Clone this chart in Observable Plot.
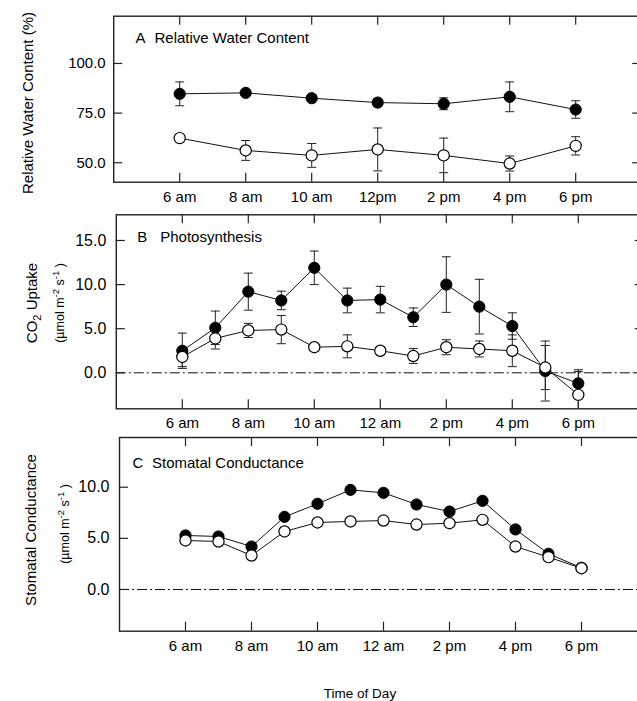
<!DOCTYPE html>
<html><head><meta charset="utf-8">
<script src="https://cdn.jsdelivr.net/npm/d3@7"></script>
<script src="https://cdn.jsdelivr.net/npm/@observablehq/plot@0.6"></script>
<style>
body{margin:0;background:#fff;}
#chart{width:637px;height:701px;overflow:hidden;position:relative;background:#fff;}
#chart svg{display:block;}
</style></head><body><div id="chart"></div>
<script>
// ---------- data ----------
const tickHours = [6, 8, 10, 12, 14, 16, 18];
const tickLabelsA = ["6 am", "8 am", "10 am", "12pm", "2 pm", "4 pm", "6 pm"];
const tickLabelsBC = ["6 am", "8 am", "10 am", "12 am", "2 pm", "4 pm", "6 pm"];

// Panel A: relative water content (%), every 2 h
const hoursA = [6, 8, 10, 12, 14, 16, 18];
const rwcFilled = [84.7, 85.2, 82.5, 80.3, 79.7, 83.2, 76.8];
const rwcFilledErr = [6.0, 1.5, 1.5, 2.0, 3.0, 7.5, 4.4];
const rwcOpen = [62.4, 56.2, 53.7, 56.7, 53.7, 49.6, 58.5];
const rwcOpenErr = [1.5, 5.0, 6.0, 10.8, 8.7, 3.8, 4.6];
const yTicksA = [50, 75, 100];

// Panel B: CO2 uptake (µmol m-2 s-1), hourly
const hoursB = [6, 7, 8, 9, 10, 11, 12, 13, 14, 15, 16, 17, 18];
const co2Filled = [2.5, 5.1, 9.2, 8.2, 11.9, 8.2, 8.3, 6.3, 10.0, 7.5, 5.3, 0.2, -1.2];
const co2FilledErr = [2.0, 1.9, 2.1, 1.05, 1.9, 1.4, 1.5, 1.05, 3.15, 3.1, 1.5, 3.4, 1.55];
const co2Open = [1.8, 3.9, 4.8, 4.9, 2.9, 3.0, 2.5, 1.9, 2.9, 2.7, 2.5, 0.6, -2.5];
const co2OpenErr = [1.1, 1.2, 0.8, 1.6, 0.4, 1.3, 0.4, 0.85, 0.85, 0.9, 1.8, 2.5, 2.65];
const yTicksB = [0, 5, 10, 15];

// Panel C: stomatal conductance, hourly
const hoursC = [6, 7, 8, 9, 10, 11, 12, 13, 14, 15, 16, 17, 18];
const gsFilled = [5.28, 5.18, 4.2, 7.1, 8.38, 9.74, 9.45, 8.31, 7.62, 8.67, 5.87, 3.49, 2.12];
const gsOpen = [4.79, 4.69, 3.32, 5.67, 6.55, 6.65, 6.74, 6.35, 6.48, 6.81, 4.2, 3.16, 2.08];
const yTicksC = [0, 5, 10];

// ---------- drawing ----------
const FONT = "'Liberation Sans', Arial, Helvetica, sans-serif";
const W = 637;
const xDomain = [4, 20];
const plotW = 528;
const capSymbol = {draw(ctx) { ctx.moveTo(-4.5, 0); ctx.lineTo(4.5, 0); }};

function rows(hours, vals, errs) {
  return hours.map((t, i) => ({t, v: vals[i], lo: errs ? vals[i] - errs[i] : null, hi: errs ? vals[i] + errs[i] : null}));
}

function panel(cfg) {
  const innerH = cfg.height - cfg.top - cfg.bottom;
  const f = rows(cfg.hours, cfg.filled, cfg.filledErr);
  const o = rows(cfg.hours, cfg.open, cfg.openErr);
  const marks = [
    Plot.frame({stroke: "#222", strokeWidth: 1.4}),
    cfg.zero ? Plot.ruleY([0], {stroke: "#111", strokeWidth: 1, strokeDasharray: "10,3,2,3"}) : null,
    Plot.ruleX(tickHours, {x: d => d, insetBottom: innerH - 9, stroke: "#222", strokeWidth: 1.2}),
    Plot.ruleX(tickHours, {x: d => d, insetTop: innerH - 9, stroke: "#222", strokeWidth: 1.2}),
    Plot.ruleY(cfg.yTicks, {y: d => d, insetRight: plotW - 9, stroke: "#222", strokeWidth: 1.2}),
    Plot.ruleY(cfg.yTicks, {y: d => d, insetLeft: plotW - 9, stroke: "#222", strokeWidth: 1.2}),
    Plot.axisX({ticks: tickHours, tickFormat: d => cfg.xLabels[tickHours.indexOf(d)], tickSize: 0, tickPadding: 9, fontSize: 15, label: null}),
    Plot.axisY({ticks: cfg.yTicks, tickFormat: d3.format(".1f"), tickSize: 0, tickPadding: cfg.yPad, fontSize: cfg.yFont, label: null}),
    Plot.line(f, {x: "t", y: "v", stroke: "#111", strokeWidth: 1}),
    Plot.line(o, {x: "t", y: "v", stroke: "#111", strokeWidth: 1})
  ];
  if (cfg.filledErr) {
    for (const d of [f, o]) {
      marks.push(Plot.ruleX(d, {x: "t", y1: "lo", y2: "hi", stroke: "#222", strokeWidth: 1, clip: true}));
      marks.push(Plot.dot(d, {x: "t", y: "hi", symbol: capSymbol, stroke: "#222", fill: "none", strokeWidth: 1, clip: true}));
      marks.push(Plot.dot(d, {x: "t", y: "lo", symbol: capSymbol, stroke: "#222", fill: "none", strokeWidth: 1, clip: true}));
    }
  }
  marks.push(Plot.dot(f, {x: "t", y: "v", r: 5.6, fill: "#000", stroke: "#000", strokeWidth: 1}));
  marks.push(Plot.dot(o, {x: "t", y: "v", r: 5.6, fill: "#fff", stroke: "#000", strokeWidth: 1.2}));
  marks.push(Plot.text([cfg.letter], {text: d => d, frameAnchor: "top-left", dx: cfg.letterDx, dy: cfg.titleDy, lineAnchor: "middle", textAnchor: "start", fontSize: 15, fill: "#000"}));
  marks.push(Plot.text([cfg.title], {text: d => d, frameAnchor: "top-left", dx: cfg.titleDx, dy: cfg.titleDy, lineAnchor: "middle", textAnchor: "start", fontSize: 15, fill: "#000"}));

  return Plot.plot({
    width: W, height: cfg.height,
    marginTop: cfg.top, marginBottom: cfg.bottom, marginLeft: cfg.left, marginRight: W - cfg.left - plotW,
    x: {domain: xDomain, axis: null, label: null},
    y: {domain: cfg.yDomain, axis: null, label: null},
    style: {fontFamily: FONT, overflow: "hidden", background: "#fff", color: "#000"},
    marks
  });
}

function rotLabel(svg, x, y, size, parts) {
  const t = d3.select(svg).append("text")
    .attr("transform", `translate(${x},${y}) rotate(-90)`)
    .attr("text-anchor", "middle")
    .attr("font-family", FONT)
    .attr("font-size", size)
    .attr("fill", "#000");
  for (const p of parts) {
    const s = t.append("tspan").text(p.t);
    if (p.dy) s.attr("dy", p.dy);
    if (p.size) s.attr("font-size", p.size);
  }
  return t;
}

const unitParts = [{t: "(µmol m"}, {t: "-2", dy: -5, size: 9.5}, {t: " s", dy: 5}, {t: "-1", dy: -5, size: 9.5}, {t: " )", dy: 5}];
const chart = document.getElementById("chart");

const svgA = panel({
  height: 205, top: 15.7, bottom: 23.3, left: 113.2,
  yDomain: [40.2, 123.8], yTicks: yTicksA, yFont: 15, yPad: 8,
  xLabels: tickLabelsA, hours: hoursA,
  filled: rwcFilled, filledErr: rwcFilledErr, open: rwcOpen, openErr: rwcOpenErr,
  zero: false, letter: "A", title: "Relative Water Content", letterDx: 21.8, titleDx: 40.8, titleDy: 22
});
rotLabel(svgA, 33, 103, 15, [{t: "Relative Water Content (%)"}]);
chart.appendChild(svgA);

const svgB = panel({
  height: 227, top: 9.3, bottom: 23.7, left: 115.8,
  yDomain: [-4.08, 17.91], yTicks: yTicksB, yFont: 16, yPad: 10,
  xLabels: tickLabelsBC, hours: hoursB,
  filled: co2Filled, filledErr: co2FilledErr, open: co2Open, openErr: co2OpenErr,
  zero: true, letter: "B", title: "Photosynthesis", letterDx: 20.9, titleDx: 43.9, titleDy: 22.4
});
rotLabel(svgB, 37, 98, 15, [{t: "CO"}, {t: "2", dy: 4, size: 11}, {t: " Uptake", dy: -4}]);
rotLabel(svgB, 64, 98, 12.5, unitParts);
chart.appendChild(svgB);

const svgC = panel({
  height: 269, top: 5, bottom: 70.3, left: 119,
  yDomain: [-4.08, 14.86], yTicks: yTicksC, yFont: 16, yPad: 10,
  xLabels: tickLabelsBC, hours: hoursC,
  filled: gsFilled, filledErr: null, open: gsOpen, openErr: null,
  zero: true, letter: "C", title: "Stomatal Conductance", letterDx: 13, titleDx: 32.5, titleDy: 26
});
rotLabel(svgC, 36, 98, 15, [{t: "Stomatal Conductance"}]);
rotLabel(svgC, 68.5, 92, 12.5, unitParts);
d3.select(svgC).append("text").attr("x", 360).attr("y", 266).attr("text-anchor", "middle")
  .attr("font-family", FONT).attr("font-size", 13.5).attr("fill", "#000").text("Time of Day");
chart.appendChild(svgC);
</script></body></html>
